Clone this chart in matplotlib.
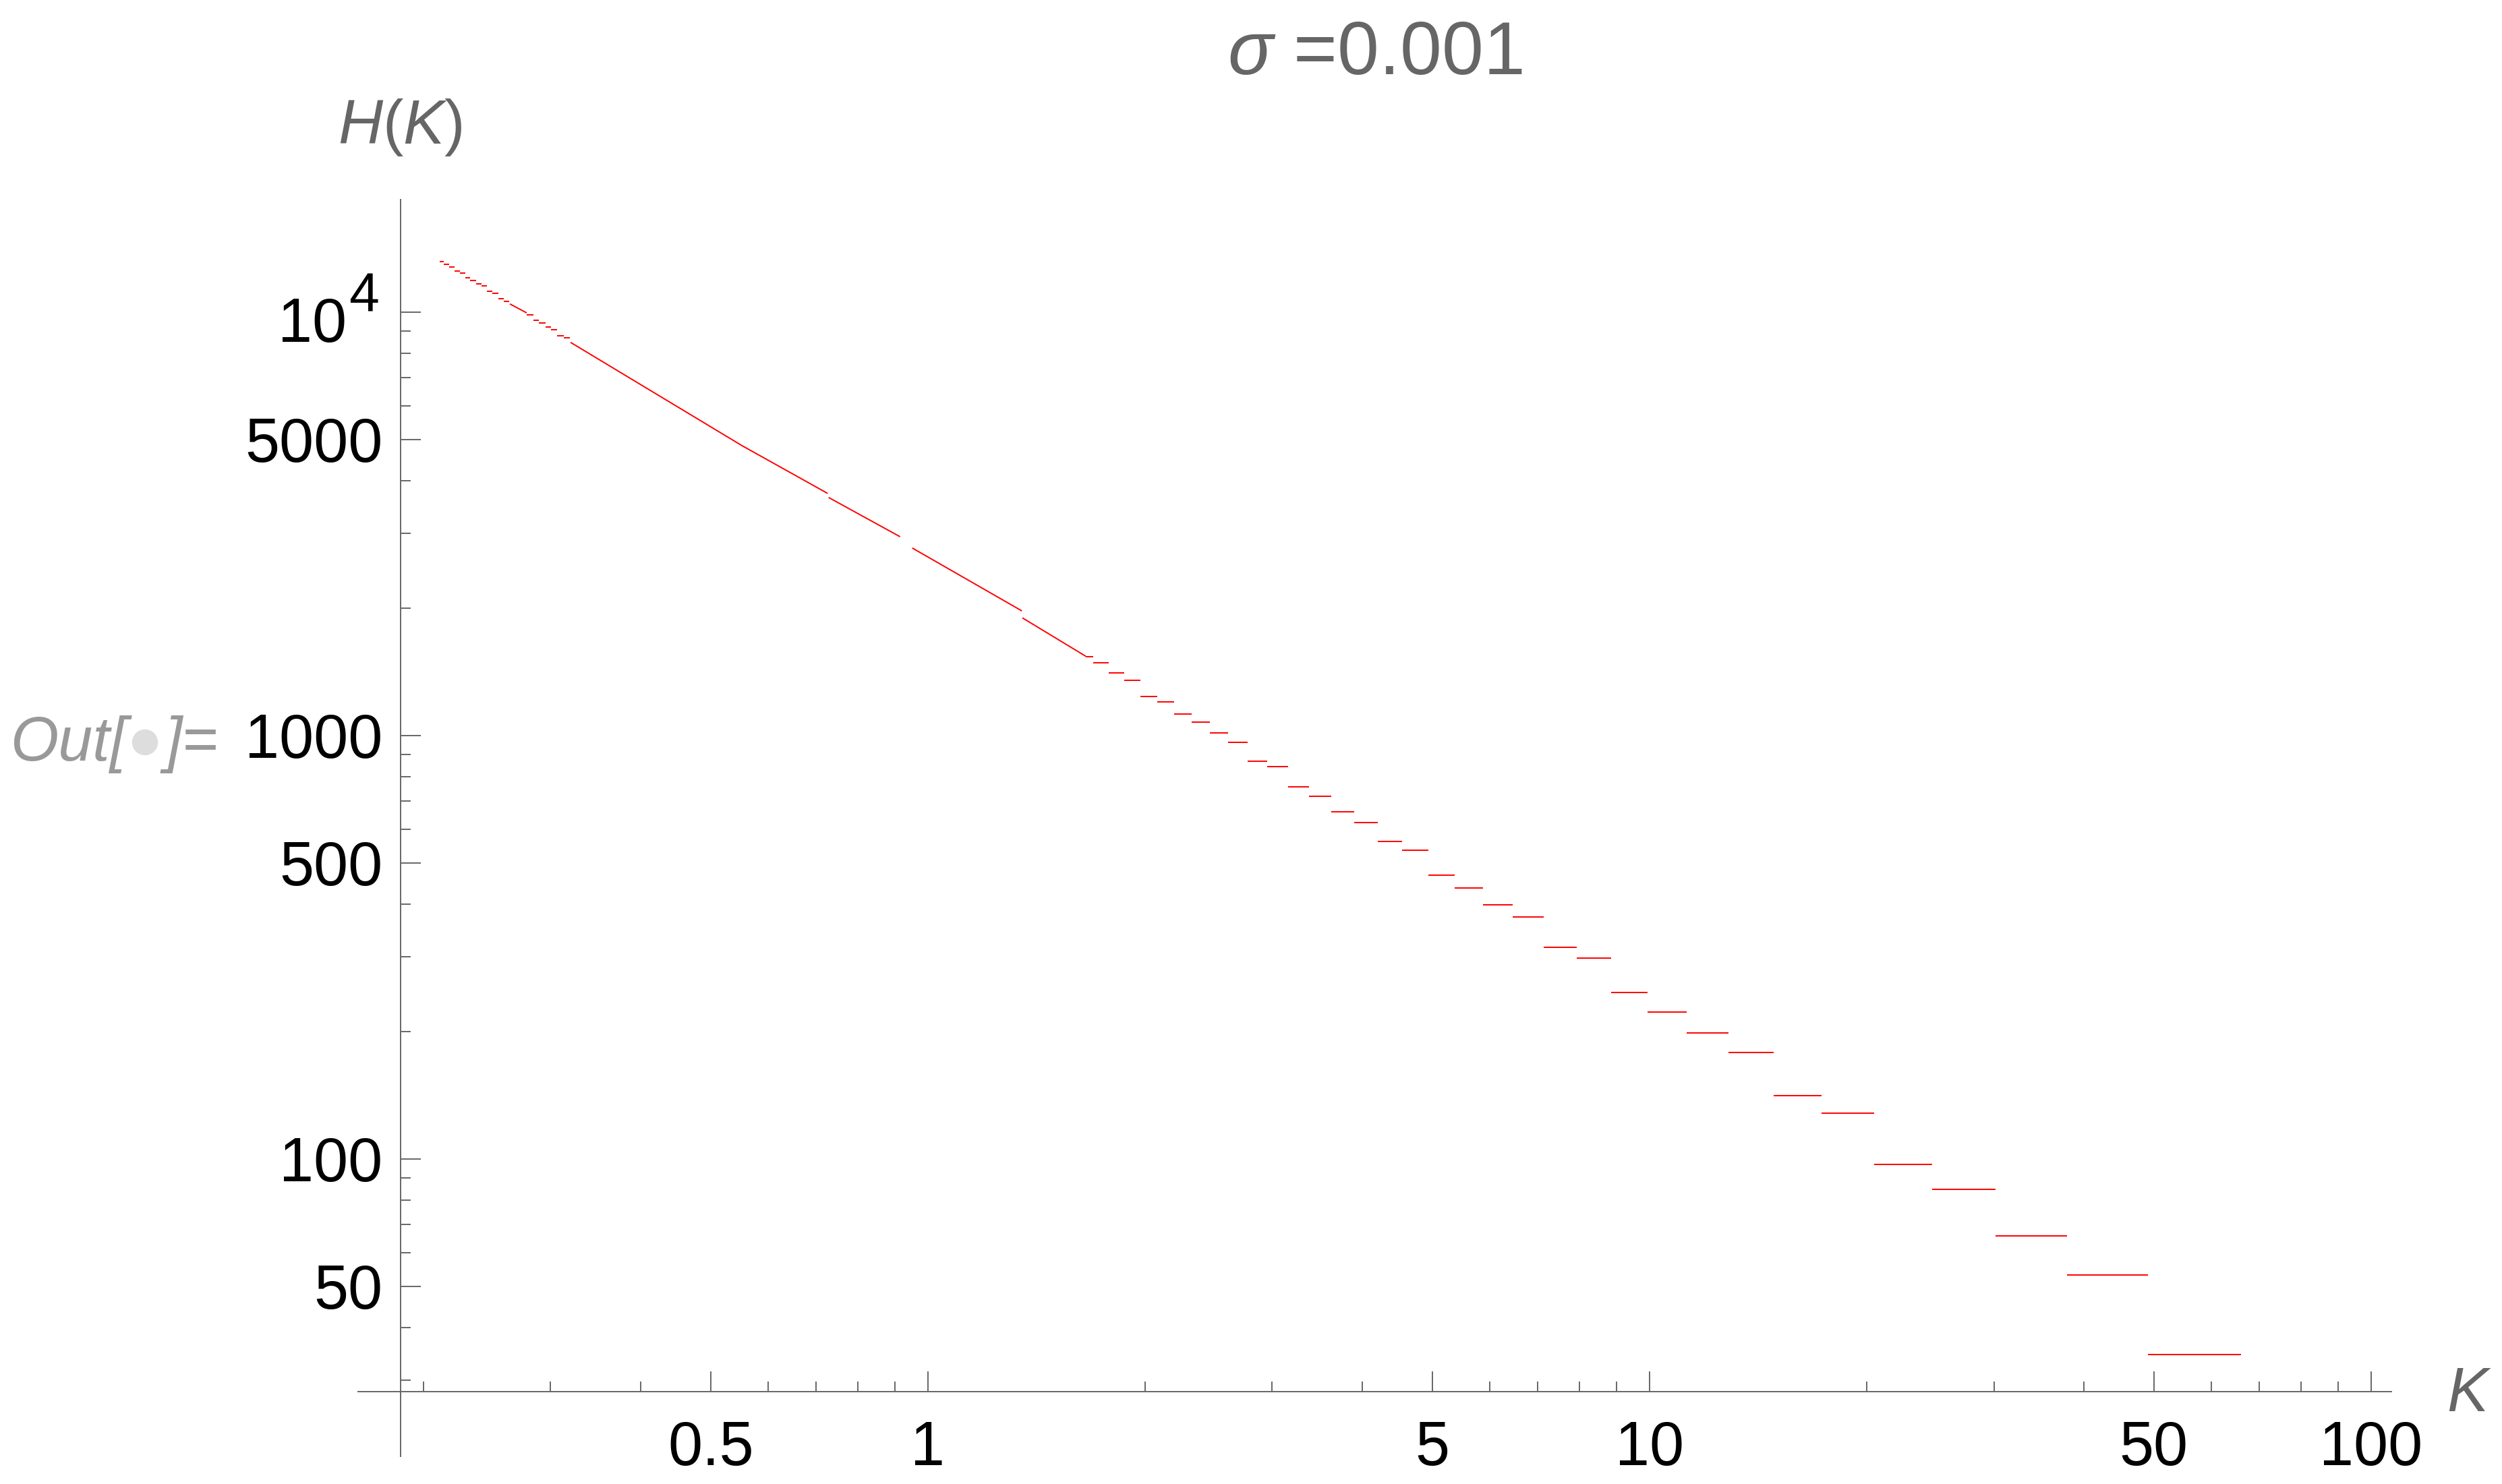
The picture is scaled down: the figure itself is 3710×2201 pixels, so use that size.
import matplotlib
matplotlib.use("Agg")
import matplotlib.pyplot as plt
from matplotlib.patches import Ellipse
from matplotlib.ticker import NullFormatter

plt.rcParams["font.family"] = ["Liberation Sans", "DejaVu Sans"]
plt.rcParams["mathtext.fontset"] = "custom"
plt.rcParams["mathtext.rm"] = "Liberation Sans"
plt.rcParams["mathtext.it"] = "Liberation Sans:italic"

## data
# smooth stretches of H(K)
CURVE_K = [[0.2634, 0.2779],
           [0.3197, 0.5521, 0.7262],
           [0.7284, 0.9150],
           [0.9511, 1.3496],
           [1.3516, 1.6546]]
CURVE_H = [[10450, 9952],
           [8477, 4838, 3728],
           [3647, 2946],
           [2771, 1968],
           [1895, 1538]]

# flat steps: edges in K, one H per step
STEP1_EDGES = [0.2106, 0.2135, 0.2170, 0.2208, 0.2244, 0.2283, 0.2322,
               0.2363, 0.2404, 0.2448, 0.2493, 0.2537, 0.2583, 0.2631]
STEP1_H = [13160, 12970, 12790, 12510, 12370, 12060, 11880,
           11670, 11540, 11200, 11080, 10760, 10600]

STEP2_EDGES = [0.2782, 0.2837, 0.2892, 0.2949, 0.3006, 0.3065, 0.3129, 0.3193]
STEP2_H = [9854, 9570, 9431, 9225, 9092, 8796, 8700]

STEP3_EDGES = [1.6546, 1.6954, 1.7815, 1.8717, 1.9708, 2.0775, 2.1944, 2.3206,
               2.4567, 2.6068, 2.7727, 2.9535, 3.1541, 3.3757, 3.6198, 3.8954,
               4.2007, 4.5428, 4.9354, 5.3723, 5.8822, 6.4654, 7.1398, 7.9227,
               8.8511, 9.9422, 11.264, 12.872, 14.853, 17.325, 20.489, 24.654,
               30.177, 37.916, 49.080, 65.966]
STEP3_H = [1536, 1486, 1407, 1351, 1237, 1202, 1125, 1076, 1015, 964, 870, 845,
           757, 719, 661, 623, 562, 536, 468, 437, 398, 373, 316, 298, 247, 222,
           198, 178, 141, 128, 97.1, 84.8, 65.8, 53.2, 34.5]

## axes
X_RANGE = (0.1623, 106.67)
Y_RANGE = (19.83, 18429)
ORIGIN = (0.1858, 28.19)

X_MAJOR = [0.5, 1, 5, 10, 50, 100]
X_LABELS = ["0.5", "1", "5", "10", "50", "100"]
X_MINOR = [0.2, 0.3, 0.4, 0.6, 0.7, 0.8, 0.9, 2, 3, 4, 6, 7, 8, 9,
           20, 30, 40, 60, 70, 80, 90]
Y_MAJOR = [50, 100, 500, 1000, 5000, 10000]
Y_LABELS = ["50", "100", "500", "1000", "5000", ""]
Y_MINOR = [30, 40, 60, 70, 80, 90, 200, 300, 400, 600, 700, 800, 900,
           2000, 3000, 4000, 6000, 7000, 8000, 9000]

W, HT = 3710, 2201
GRAY = "#666666"
FS = 66

fig = plt.figure(figsize=(W / 100, HT / 100), dpi=100)
ax = fig.add_axes([531 / W, 1 - 2160 / HT, (3546 - 531) / W, (2160 - 296) / HT])
ax.set_xscale("log")
ax.set_yscale("log")
ax.set_xlim(*X_RANGE)
ax.set_ylim(*Y_RANGE)

for ks, hs in zip(CURVE_K, CURVE_H):
    ax.plot(ks, hs, color="red", lw=1.4, solid_capstyle="butt")
for edges, hs in [(STEP1_EDGES, STEP1_H), (STEP2_EDGES, STEP2_H), (STEP3_EDGES, STEP3_H)]:
    ax.hlines(hs, edges[:-1], edges[1:], color="red", lw=1.4)

for s in ["top", "right"]:
    ax.spines[s].set_visible(False)
ax.spines["bottom"].set_position(("data", ORIGIN[1]))
ax.spines["left"].set_position(("data", ORIGIN[0]))
for s in ["bottom", "left"]:
    ax.spines[s].set_color(GRAY)
    ax.spines[s].set_linewidth(1.4)

ax.set_xticks(X_MAJOR, X_LABELS)
ax.set_xticks(X_MINOR, minor=True)
ax.set_yticks(Y_MAJOR, Y_LABELS)
ax.set_yticks(Y_MINOR, minor=True)
ax.xaxis.set_minor_formatter(NullFormatter())
ax.yaxis.set_minor_formatter(NullFormatter())
ax.tick_params(which="both", direction="in", color=GRAY, width=1.4,
               labelsize=FS, labelcolor="black")
ax.tick_params(which="major", length=21.6)
ax.tick_params(which="minor", length=10.8)
ax.tick_params(axis="x", which="major", pad=30)
ax.tick_params(axis="y", which="major", pad=19)
ax.patch.set_visible(False)

# 10^4 label drawn by hand, Mathematica style superscript
ax.annotate("10", xy=(ORIGIN[0], 10000), xytext=(-57.6, -32), textcoords="offset points",
            ha="right", va="baseline", fontsize=FS, color="black")
ax.annotate("4", xy=(ORIGIN[0], 10000), xytext=(-23, 0.5), textcoords="offset points",
            ha="right", va="baseline", fontsize=58, color="black")

# labels
fig.text(2039 / W, 1 - 110 / HT, r"$\sigma$ =0.001", ha="center", va="baseline",
         fontsize=80, color=GRAY)
fig.text(593 / W, 1 - 213 / HT, r"$H(K)$", ha="center", va="baseline",
         fontsize=FS, color=GRAY)
fig.text(3628 / W, 1 - 2093 / HT, r"$K$", ha="left", va="baseline",
         fontsize=FS, color=GRAY)

# Out[ ] cell label
fig.text(15 / W, 1 - 1128 / HT, "Out[", ha="left", va="baseline", fontsize=FS,
         color="#999999", style="italic")
fig.text(245 / W, 1 - 1128 / HT, "]=", ha="left", va="baseline", fontsize=FS,
         color="#999999", style="italic")
fig.add_artist(Ellipse((215 / W, 1 - 1101 / HT), 37 / W, 37 / HT,
                       transform=fig.transFigure, color="#dddddd"))

fig.savefig("out.png", dpi=100)
